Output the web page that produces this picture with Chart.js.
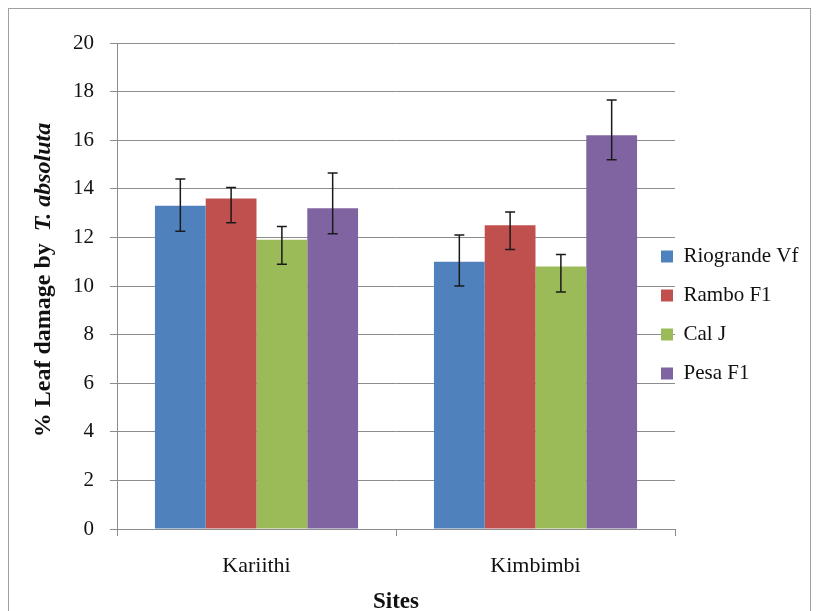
<!DOCTYPE html>
<html lang="en">
<head>
    <meta charset="UTF-8">
    <title>Leaf damage</title>
    <style>
        body { margin: 0; background: #fff; }
        #wrap { width: 818px; height: 611px; }
    </style>
</head>
<body>
    <div id="wrap"><canvas id="myChart" width="818" height="611"></canvas></div>
    <script src="https://cdn.jsdelivr.net/npm/chart.js"></script>
    <script>
        // data
        const sites = ['Kariithi', 'Kimbimbi']
        const varieties = ['Riogrande Vf', 'Rambo F1', 'Cal J', 'Pesa F1']
        const colors = ['#4f81bd', '#c0504d', '#9bbb59', '#8064a2']
        const riogrande = [13.3, 11.0]
        const rambo = [13.6, 12.5]
        const calj = [11.9, 10.8]
        const pesa = [13.2, 16.2]
        // error bar ends (low / high)
        const errLow = [[12.25, 10.0], [12.6, 11.5], [10.9, 9.75], [12.15, 15.2]]
        const errHigh = [[14.4, 12.1], [14.05, 13.05], [12.45, 11.3], [14.65, 17.65]]
        const yTicks = [0, 2, 4, 6, 8, 10, 12, 14, 16, 18, 20]

        const serif = "'Liberation Serif', 'Times New Roman', serif"

        const errorBars = {
            id: 'errorBars',
            afterDatasetsDraw(chart) {
                const ctx = chart.ctx
                const y = chart.scales.y
                ctx.save()
                ctx.strokeStyle = '#1a1a1a'
                ctx.lineWidth = 1.5
                chart.data.datasets.forEach((ds, i) => {
                    chart.getDatasetMeta(i).data.forEach((bar, j) => {
                        const x = bar.x
                        const lo = y.getPixelForValue(errLow[i][j])
                        const hi = y.getPixelForValue(errHigh[i][j])
                        ctx.beginPath()
                        ctx.moveTo(x, lo); ctx.lineTo(x, hi)
                        ctx.moveTo(x - 5, lo); ctx.lineTo(x + 5, lo)
                        ctx.moveTo(x - 5, hi); ctx.lineTo(x + 5, hi)
                        ctx.stroke()
                    })
                })
                ctx.restore()
            }
        }

        const frame = {
            id: 'frame',
            afterDraw(chart) {
                const ctx = chart.ctx
                ctx.save()
                ctx.strokeStyle = '#a0a0a0'
                ctx.lineWidth = 1
                ctx.strokeRect(8.5, 8.5, 802, 640)
                // y axis title, with the species name in italics
                ctx.translate(44, 280)
                ctx.rotate(-Math.PI / 2)
                ctx.fillStyle = '#111'
                ctx.textBaseline = 'middle'
                const p1 = '% Leaf damage by  '
                const p2 = 'T. absoluta'
                ctx.font = 'bold 24px ' + serif
                const w1 = ctx.measureText(p1).width
                ctx.font = 'italic bold 24px ' + serif
                const w2 = ctx.measureText(p2).width
                let x0 = -(w1 + w2) / 2
                ctx.font = 'bold 24px ' + serif
                ctx.fillText(p1, x0, 0)
                ctx.font = 'italic bold 24px ' + serif
                ctx.fillText(p2, x0 + w1, 0)
                ctx.restore()
            }
        }

        // legend sits partly over the plot area, as in the picture
        const legendPlace = {
            id: 'legendPlace',
            afterInit(chart) {
                const lg = chart.legend
                const fit = lg.fit.bind(lg)
                lg.fit = function () {
                    fit()
                    this.width = 143
                }
            },
            afterLayout(chart) {
                const lg = chart.legend
                lg.left = 643
                lg.right = 818
                lg.top = 228
            }
        }

        const series = [riogrande, rambo, calj, pesa]
        const cfg = {
            type: 'bar',
            data: {
                labels: sites,
                datasets: varieties.map((v, i) => ({
                    label: v,
                    data: series[i],
                    backgroundColor: colors[i],
                    borderWidth: 0,
                    categoryPercentage: 0.728,
                    barPercentage: 1.0
                }))
            },
            options: {
                responsive: false,
                animation: false,
                layout: { padding: { top: 43, left: 0, right: 0, bottom: 0 } },
                plugins: {
                    tooltip: { enabled: false },
                    legend: {
                        position: 'right',
                        align: 'start',
                        labels: {
                            boxWidth: 12,
                            boxHeight: 12,
                            padding: 18,
                            color: '#111',
                            font: { family: serif, size: 21 }
                        }
                    }
                },
                scales: {
                    x: {
                        afterFit: s => { s.height = 82 },
                        grid: { drawOnChartArea: false, drawTicks: true, tickLength: 7, offset: true, color: '#8c8c8c' },
                        border: { color: '#8c8c8c' },
                        ticks: { color: '#111', padding: 17, font: { family: serif, size: 22 } },
                        title: { display: true, text: 'Sites', color: '#111', padding: { top: 0, bottom: -5 }, font: { family: serif, size: 23, weight: 'bold' } }
                    },
                    y: {
                        min: 0,
                        max: 20,
                        afterFit: s => { s.width = 117 },
                        afterBuildTicks: s => { s.ticks = yTicks.map(v => ({ value: v })) },
                        grid: { color: '#8c8c8c', tickLength: 7 },
                        border: { color: '#8c8c8c' },
                        ticks: { color: '#111', padding: 16, font: { family: serif, size: 21 } }
                    }
                }
            },
            plugins: [errorBars, frame, legendPlace]
        }
        const ctx = document.getElementById('myChart').getContext('2d')
        new Chart(ctx, cfg)
    </script>
</body>
</html>
